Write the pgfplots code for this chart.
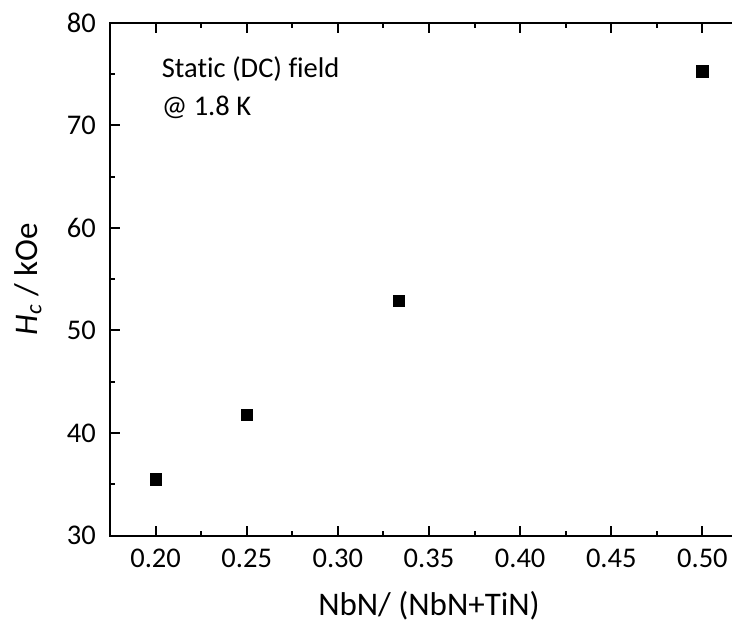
\documentclass[border=0pt]{standalone}
\usepackage{fontspec}
\setmainfont{Carlito}[Ligatures={NoCommon}]
\usepackage{pgfplots}
\pgfplotsset{compat=1.18}
\begin{document}
\begin{tikzpicture}
\useasboundingbox (-110pt,-90.3pt) rectangle (622pt,535.7pt);
\clip (-110pt,-90.3pt) rectangle (622pt,535.7pt);
\begin{axis}[
  at={(0pt,0pt)}, anchor=south west,
  scale only axis, width=638pt, height=513pt,
  xmin=0.175, xmax=0.525, ymin=30, ymax=80,
  xtick={0.20,0.25,0.30,0.35,0.40,0.45,0.50},
  ytick={30,40,50,60,70,80},
  minor x tick num=1, minor y tick num=1,
  tick align=inside,
  major tick length=10pt, minor tick length=5pt,
  axis line style={line width=2pt},
  every tick/.style={line width=2pt, black},
  /pgf/number format/assume math mode=true,
  xticklabel style={/pgf/number format/fixed, /pgf/number format/fixed zerofill, /pgf/number format/precision=2},
  x tick label style={font=\fontsize{28.5}{34}\selectfont, inner sep=0pt, anchor=north, yshift=-13pt},
  y tick label style={font=\fontsize{28.5}{34}\selectfont, inner sep=0pt, anchor=east, xshift=-14pt},
  xlabel={NbN/ (NbN+TiN)},
  ylabel={{\itshape H\textsubscript{c}} / kOe},
  every axis x label/.style={at={(axis description cs:0.5,-0.1546)}, anchor=base, font=\fontsize{33}{40}\selectfont},
  every axis y label/.style={at={(axis description cs:-0.1285,0.5)}, anchor=center, rotate=90, font=\fontsize{33}{40}\selectfont},
  clip=false,
]
\addplot[only marks, mark=square*, mark size=5.8pt, black] coordinates {
  (0.20,35.5) (0.25,41.8) (0.3333,52.9) (0.50,75.3)
};
\node[anchor=base west, inner sep=0pt, font=\fontsize{28.5}{34}\selectfont] at (rel axis cs:0.081,0.894) {Static (DC) field};
\node[anchor=base west, inner sep=0pt, font=\fontsize{28.5}{34}\selectfont] at (rel axis cs:0.081,0.820) {@ 1.8 K};
\end{axis}
\end{tikzpicture}
\end{document}
